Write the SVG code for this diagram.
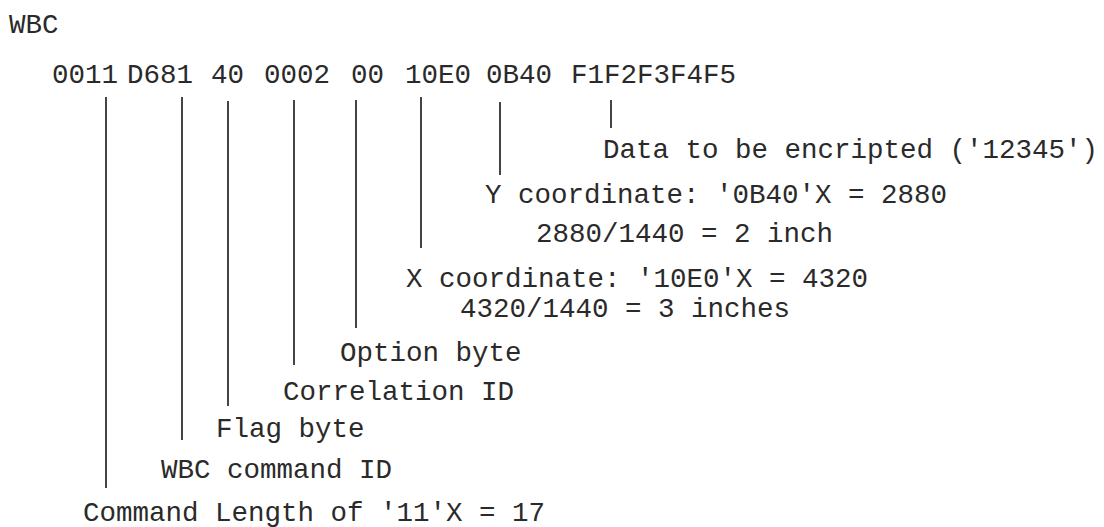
<svg xmlns="http://www.w3.org/2000/svg" width="1104" height="527" viewBox="0 0 1104 527">
<style>
  text { font-family: "Liberation Mono", "DejaVu Sans Mono", monospace; font-size: 27.5px; fill: #2a2a2a; }
  .ln { stroke: #444; stroke-width: 2; fill: none; }
</style>
<rect width="1104" height="527" fill="#ffffff"/>
<g id="title"><text x="9" y="33">WBC</text></g>
<g id="record">
  <text x="52" y="83">0011</text>
  <text x="127" y="83">D681</text>
  <text x="211" y="83">40</text>
  <text x="264" y="83">0002</text>
  <text x="351" y="83">00</text>
  <text x="405" y="83">10E0</text>
  <text x="486" y="83">0B40</text>
  <text x="571" y="83">F1F2F3F4F5</text>
</g>
<g id="connectors">
  <line class="ln" x1="106" y1="97" x2="106" y2="488"/>
  <line class="ln" x1="182" y1="97" x2="182" y2="440"/>
  <line class="ln" x1="228" y1="101" x2="228" y2="406"/>
  <line class="ln" x1="294" y1="100" x2="294" y2="365"/>
  <line class="ln" x1="356" y1="100" x2="356" y2="328"/>
  <line class="ln" x1="421" y1="97" x2="421" y2="248"/>
  <line class="ln" x1="500" y1="102" x2="500" y2="175"/>
  <line class="ln" x1="611" y1="100" x2="611" y2="128"/>
</g>
<g id="data-label"><text x="603" y="158">Data to be encripted ('12345')</text></g>
<g id="y-label">
  <text x="485" y="203">Y coordinate: '0B40'X = 2880</text>
  <text x="536" y="242">2880/1440 = 2 inch</text>
</g>
<g id="x-label">
  <text x="406" y="287">X coordinate: '10E0'X = 4320</text>
  <text x="460" y="317">4320/1440 = 3 inches</text>
</g>
<g id="option-label"><text x="340" y="361">Option byte</text></g>
<g id="correlation-label"><text x="283" y="400">Correlation ID</text></g>
<g id="flag-label"><text x="216" y="437">Flag byte</text></g>
<g id="wbc-label"><text x="161" y="478">WBC command ID</text></g>
<g id="length-label"><text x="83" y="521">Command Length of '11'X = 17</text></g>
</svg>
